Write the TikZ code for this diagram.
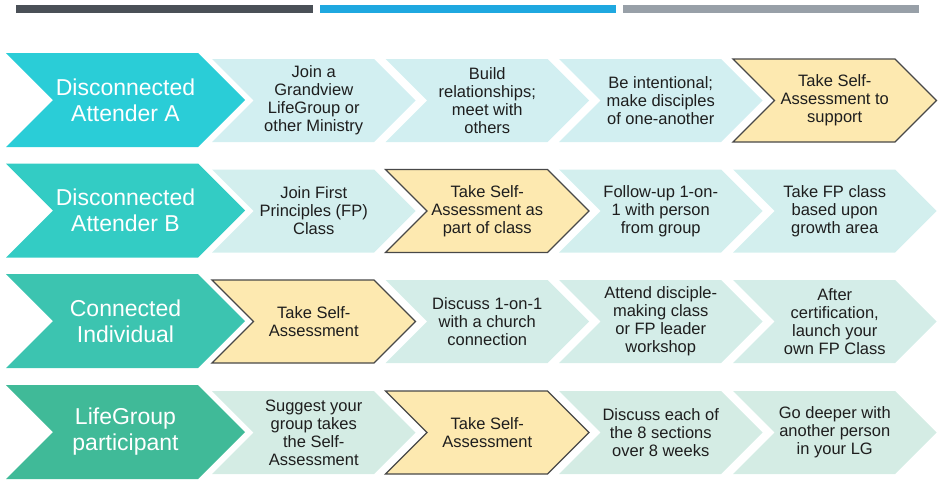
\documentclass[tikz,border=0pt]{standalone}
\usepackage{fontspec}
\setmainfont{Liberation Sans}
\definecolor{barA}{RGB}{74,80,87}
\definecolor{barB}{RGB}{31,168,224}
\definecolor{barC}{RGB}{152,160,168}
\definecolor{headA}{RGB}{42,205,215}
\definecolor{headB}{RGB}{51,204,196}
\definecolor{headC}{RGB}{60,196,176}
\definecolor{headD}{RGB}{64,186,152}
\definecolor{lightA}{RGB}{210,239,241}
\definecolor{lightB}{RGB}{211,239,238}
\definecolor{lightC}{RGB}{212,237,232}
\definecolor{lightD}{RGB}{212,236,228}
\definecolor{hiFill}{RGB}{253,233,176}
\definecolor{hiLine}{RGB}{72,72,72}
\definecolor{txt}{RGB}{30,30,30}
\tikzset{
  headtext/.style={align=center,text=white,font=\fontsize{23}{26}\selectfont},
  steptext/.style={align=center,text=txt,font=\fontsize{16.5}{18}\selectfont},
  hi/.style={fill=hiFill,draw=hiLine,line width=1.3pt,line join=miter}
}
% #1 left x, #2 top y, #3 width to top-right corner, #4 half height, #5 path style, #6 node name, #7 node style, #8 text
\newcommand\chevshape[8]{%
  \path[#5] (#1,#2) -- ({#1+#3},#2) -- ({#1+#3+#4},{#2+#4}) -- ({#1+#3},{#2+2*#4})
     -- (#1,{#2+2*#4}) -- ({#1+#4},{#2+#4}) -- cycle;
  \node[#7] (#6) at ({#1+(#3+#4)/2},{#2+#4}) {#8};}
\begin{document}
\begin{tikzpicture}[x=1pt,y=-1pt]
\useasboundingbox (0,0) rectangle (939,479);
\fill[barA] (16,5.3) rectangle (313,12.5);
\fill[barB] (320,5.3) rectangle (616,12.5);
\fill[barC] (623,5.3) rectangle (919,12.5);
% row 1
\chevshape{6}{53}{192}{47}{fill=headA}{h1}{headtext}{Disconnected\\Attender A}
\chevshape{212}{59}{162}{41.5}{fill=lightA}{s11}{steptext}{Join a\\Grandview\\LifeGroup or\\other Ministry}
\chevshape{385.5}{59}{162}{41.5}{fill=lightA}{s12}{steptext}{Build\\relationships;\\meet with\\others}
\chevshape{559}{59}{162}{41.5}{fill=lightA}{s13}{steptext}{Be intentional;\\make disciples\\of one-another}
\chevshape{733}{59}{162}{41.5}{hi}{s14}{steptext}{Take Self-\\Assessment to\\support}
% row 2
\chevshape{6}{163.5}{192}{47}{fill=headB}{h2}{headtext}{Disconnected\\Attender B}
\chevshape{212}{169.5}{162}{41.5}{fill=lightB}{s21}{steptext}{Join First\\Principles (FP)\\Class}
\chevshape{385.5}{169.5}{162}{41.5}{hi}{s22}{steptext}{Take Self-\\Assessment as\\part of class}
\chevshape{559}{169.5}{162}{41.5}{fill=lightB}{s23}{steptext}{Follow-up 1-on-\\1 with person\\from group}
\chevshape{733}{169.5}{162}{41.5}{fill=lightB}{s24}{steptext}{Take FP class\\based upon\\growth area}
% row 3
\chevshape{6}{274}{192}{47}{fill=headC}{h3}{headtext}{Connected\\Individual}
\chevshape{212}{280}{162}{41.5}{hi}{s31}{steptext}{Take Self-\\Assessment}
\chevshape{385.5}{280}{162}{41.5}{fill=lightC}{s32}{steptext}{Discuss 1-on-1\\with a church\\connection}
\chevshape{559}{280}{162}{41.5}{fill=lightC}{s33}{steptext}{Attend disciple-\\making class\\or FP leader\\workshop}
\chevshape{733}{280}{162}{41.5}{fill=lightC}{s34}{steptext}{After\\certification,\\launch your\\own FP Class}
% row 4
\chevshape{6}{385}{192}{47}{fill=headD}{h4}{headtext}{LifeGroup\\participant}
\chevshape{212}{391}{162}{41.5}{fill=lightD}{s41}{steptext}{Suggest your\\group takes\\the Self-\\Assessment}
\chevshape{385.5}{391}{162}{41.5}{hi}{s42}{steptext}{Take Self-\\Assessment}
\chevshape{559}{391}{162}{41.5}{fill=lightD}{s43}{steptext}{Discuss each of\\the 8 sections\\over 8 weeks}
\chevshape{733}{391}{162}{41.5}{fill=lightD}{s44}{steptext}{Go deeper with\\another person\\in your LG}
\end{tikzpicture}
\end{document}
